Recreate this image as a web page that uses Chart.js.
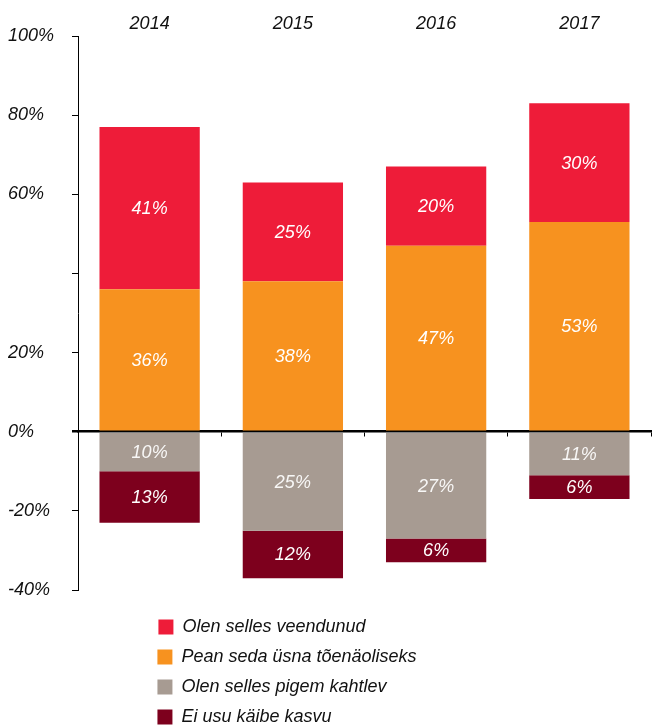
<!DOCTYPE html>
<html>
<head>
<meta charset="utf-8">
<script src="https://cdn.jsdelivr.net/npm/chart.js@4/dist/chart.umd.min.js"></script>
<style>
  html, body { margin: 0; padding: 0; background: #fff; }
  #wrap { width: 656px; height: 727px; }
</style>
</head>
<body>
<div id="wrap"><canvas id="turnoverChart"></canvas></div>
<script>
const years = ['2014', '2015', '2016', '2017'];
const convinced = [41, 25, 20, 30];       // Olen selles veendunud
const likely = [36, 38, 47, 53];          // Pean seda üsna tõenäoliseks
const doubtful = [-10, -25, -27, -11];    // Olen selles pigem kahtlev
const noGrowth = [-13, -12, -6, -6];      // Ei usu käibe kasvu
const hiddenTickLabels = [40];

const FONT_FAMILY = '"Liberation Sans", Arial, sans-serif';
const legendFont = 'italic 18px ' + FONT_FAMILY;

// white value labels in the middle of each bar segment
const segmentLabels = {
    id: 'segmentLabels',
    afterDatasetsDraw(chart) {
        const ctx = chart.ctx;
        ctx.save();
        ctx.font = 'italic 18px ' + FONT_FAMILY;
        ctx.textAlign = 'center';
        ctx.textBaseline = 'middle';
        chart.data.datasets.forEach((ds, i) => {
            chart.getDatasetMeta(i).data.forEach((bar, j) => {
                const { x, y, base } = bar.getProps(['x', 'y', 'base'], true);
                ctx.fillStyle = ds.labelColor;
                ctx.fillText(Math.abs(ds.data[j]) + '%', x, (y + base) / 2 + 1);
            });
        });
        ctx.restore();
    }
};

document.addEventListener('DOMContentLoaded', function () {
    const ctx = document.getElementById('turnoverChart').getContext('2d');
    new Chart(ctx, {
        type: 'bar',
        data: {
            labels: years,
            datasets: [
                { label: 'Pean seda üsna tõenäoliseks', data: likely, backgroundColor: '#F7921F', labelColor: '#ffffff', borderWidth: 0 },
                { label: 'Olen selles veendunud', data: convinced, backgroundColor: '#EE1C39', labelColor: '#ffffff', borderWidth: 0 },
                { label: 'Olen selles pigem kahtlev', data: doubtful, backgroundColor: '#A79B92', labelColor: 'rgba(255,255,255,0.92)', borderWidth: 0 },
                { label: 'Ei usu käibe kasvu', data: noGrowth, backgroundColor: '#7D001D', labelColor: '#ffffff', borderWidth: 0 }
            ]
        },
        options: {
            responsive: true,
            maintainAspectRatio: false,
            animation: false,
            barPercentage: 0.7,
            categoryPercentage: 1,
            layout: { padding: { top: 12.4, left: 8, right: 5, bottom: -9 } },
            scales: {
                x: {
                    position: 'top',
                    stacked: true,
                    grid: { display: false, drawTicks: false },
                    border: { display: false },
                    ticks: { padding: 1, color: '#111', font: { family: FONT_FAMILY, size: 18, style: 'italic' } }
                },
                zeroLine: {
                    type: 'category',
                    axis: 'x',
                    position: { y: 0 },
                    offset: true,
                    z: 1,
                    grid: { offset: true, drawOnChartArea: false, drawTicks: true, tickLength: 4, color: '#000', lineWidth: 1 },
                    border: { display: true, color: '#000', width: 2.5 },
                    ticks: { display: false }
                },
                y: {
                    stacked: true,
                    min: -40,
                    max: 100,
                    afterFit(scale) { scale.width = 70; },
                    grid: {
                        drawOnChartArea: false,
                        drawTicks: true,
                        tickLength: 6,
                        color: '#000',
                        lineWidth: c => (c.tick && c.tick.value === 0 ? 2.5 : 1)
                    },
                    border: { display: true, color: '#000', width: 1 },
                    ticks: {
                        stepSize: 20,
                        crossAlign: 'far',
                        color: '#111',
                        font: { family: FONT_FAMILY, size: 18, style: 'italic' },
                        callback: v => (hiddenTickLabels.includes(v) ? '' : v + '%')
                    }
                }
            },
            plugins: {
                tooltip: { enabled: false },
                legend: {
                    display: true,
                    position: 'bottom',
                    title: { display: true, text: ' ', font: { size: 10 }, padding: 2 },
                    labels: {
                        boxWidth: 15,
                        boxHeight: 15,
                        padding: 12,
                        color: '#111',
                        font: { family: FONT_FAMILY, size: 18, style: 'italic' },
                        generateLabels(chart) {
                            const items = Chart.defaults.plugins.legend.labels.generateLabels(chart);
                            const c = chart.ctx;
                            c.save();
                            c.font = legendFont;
                            // pad so every entry sits on its own line, left-aligned
                            items.forEach(it => {
                                while (c.measureText(it.text).width < 317) it.text += ' ';
                            });
                            c.restore();
                            return [items[1], items[0], items[2], items[3]];
                        }
                    }
                }
            }
        },
        plugins: [segmentLabels]
    });
});
</script>
</body>
</html>
